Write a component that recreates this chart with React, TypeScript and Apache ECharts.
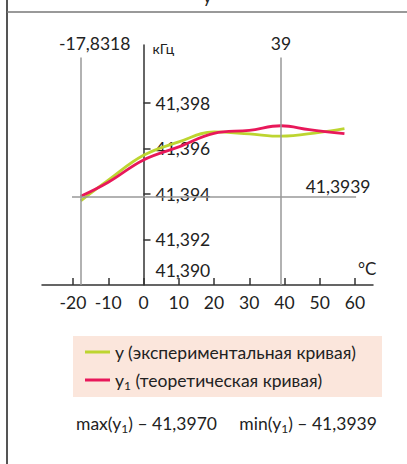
import React, { useEffect, useRef } from "react";
import * as echarts from "echarts";

const xTicks = [-20, -10, 0, 10, 20, 30, 40, 50, 60];
const yTicks = [41.39, 41.392, 41.394, 41.396, 41.398];

const expX = [-17.83, -10, 0, 10, 20, 30, 39, 50, 57];
const expY = [41.3937, 41.39461, 41.3957, 41.39629, 41.39673, 41.39664, 41.39654, 41.39671, 41.39687];

const theoX = [-17.83, -10, 0, 10, 20, 30, 39, 47, 57];
const theoY = [41.3939, 41.39452, 41.3955, 41.39607, 41.39667, 41.3968, 41.397, 41.39683, 41.39665];

const minX = -17.8318;
const maxX = 39;
const minY1 = 41.3939;
const maxY1 = 41.397;

const seriesNames = ["y (экспериментальная кривая)", "y1 (теоретическая кривая)"];

const FONT = "Lato";
const fmt = (v: number, d: number) => v.toFixed(d).replace(".", ",");

const X_MIN = -28.8;
const X_MAX = 65.1;
const GRID_W = 331;

export default function App() {
  const ref = useRef<HTMLDivElement>(null);
  useEffect(() => {
    const chart = echarts.init(ref.current!, undefined, { renderer: "svg" });
    const pairs = (xs: number[], ys: number[]) => xs.map((x, i) => [x, ys[i]]);
    const yOffset = -((0 - X_MIN) / (X_MAX - X_MIN)) * GRID_W;
    chart.setOption({
      animation: false,
      textStyle: { fontFamily: FONT },
      grid: { left: 42, top: 45, width: GRID_W, height: 240, outerBoundsMode: "none", containLabel: false },
      xAxis: {
        type: "value",
        min: X_MIN,
        max: X_MAX,
        name: "°C",
        nameLocation: "end",
        nameGap: -15,
        nameTextStyle: { fontSize: 17, color: "#222", verticalAlign: "bottom", padding: [0, 0, 8, 0], fontFamily: FONT },
        axisLine: { onZero: false, lineStyle: { color: "#333", width: 1.5 } },
        axisTick: { show: true, inside: true, length: 7, customValues: xTicks, lineStyle: { color: "#333", width: 1.5 } },
        axisLabel: { customValues: xTicks, fontSize: 17.5, color: "#222", margin: 8, fontFamily: FONT },
        splitLine: { show: false },
      },
      yAxis: {
        type: "value",
        position: "left",
        offset: yOffset,
        min: 41.39,
        max: 41.40055,
        name: "кГц",
        nameLocation: "end",
        nameGap: -3,
        nameTextStyle: { fontSize: 14, color: "#222", align: "left", verticalAlign: "middle", padding: [0, 0, 0, 9], fontFamily: FONT },
        axisLine: { onZero: false, lineStyle: { color: "#333", width: 1.5 } },
        axisTick: { show: true, inside: true, length: 7, customValues: yTicks.slice(1), lineStyle: { color: "#333", width: 1.5 } },
        axisLabel: {
          inside: true,
          customValues: yTicks,
          margin: 12,
          fontSize: 17.5,
          color: "#222",
          fontFamily: FONT,
          formatter: (v: number) => (Math.abs(v - yTicks[0]) < 1e-7 ? "{b|" + fmt(v, 3) + "}" : fmt(v, 3)),
          rich: { b: { fontSize: 17.5, color: "#222", fontFamily: FONT, padding: [0, 0, 30, 0] } },
        },
        splitLine: { show: false },
      },
      legend: {
        orient: "vertical",
        left: 85,
        top: 343,
        icon: "rect",
        itemWidth: 25,
        itemHeight: 3,
        itemGap: 10,
        padding: 0,
        data: seriesNames,
        formatter: (n: string) => (n === seriesNames[1] ? "y{s|1} (теоретическая кривая)" : n),
        textStyle: {
          fontSize: 17.5,
          color: "#222",
          fontFamily: FONT,
          rich: { s: { fontSize: 12, color: "#222", fontFamily: FONT, padding: [10, 0, 0, 0] } },
        },
      },
      graphic: [
        { type: "rect", z: -10, shape: { x: 73, y: 336, width: 309, height: 61 }, style: { fill: "#fbe6dc" } },
        { type: "line", shape: { x1: 7, y1: 0, x2: 7, y2: 464 }, style: { stroke: "#555", lineWidth: 2 } },
        { type: "line", shape: { x1: 7, y1: 12, x2: 407, y2: 12 }, style: { stroke: "#777", lineWidth: 1.5 } },
        { type: "text", x: 203, y: 5, style: { text: "у", fontSize: 17, fontFamily: FONT, fill: "#222", verticalAlign: "bottom" } },
        {
          type: "text",
          x: 76,
          y: 423,
          style: {
            text: "max(y{s|1}) – " + fmt(maxY1, 4) + "     min(y{s|1}) – " + fmt(minY1, 4),
            fontSize: 17.5,
            fontFamily: FONT,
            fill: "#222",
            verticalAlign: "middle",
            rich: { s: { fontSize: 12, fill: "#222", fontFamily: FONT, padding: [10, 0, 0, 0] } },
          },
        },
      ],
      series: [
        {
          name: seriesNames[0],
          type: "line",
          smooth: 0.4,
          showSymbol: false,
          data: pairs(expX, expY),
          lineStyle: { color: "#bdd530", width: 2.8 },
          itemStyle: { color: "#bdd530" },
          markLine: {
            silent: true,
            symbol: ["none", "none"],
            label: { show: false },
            lineStyle: { color: "#999", width: 1.5, type: "solid" },
            data: [
              [{ coord: [minX, 41.39] }, { coord: [minX, 41.4] }],
              [{ coord: [maxX, 41.39] }, { coord: [maxX, 41.4] }],
              [{ coord: [-20.3, minY1] }, { coord: [60.3, minY1] }],
            ],
          },
          markPoint: {
            silent: true,
            symbol: "circle",
            symbolSize: 0,
            label: { show: true, position: "inside", fontSize: 17.5, color: "#222", fontFamily: FONT },
            data: [
              { coord: [minX, 41.4], value: fmt(minX, 4), label: { offset: [14, -14], formatter: fmt(minX, 4) } },
              { coord: [maxX, 41.4], value: String(maxX), label: { offset: [0, -14], formatter: String(maxX) } },
              { coord: [60.3, minY1], value: fmt(minY1, 4), label: { offset: [-18, -10], formatter: fmt(minY1, 4) } },
            ],
          },
        },
        {
          name: seriesNames[1],
          type: "line",
          smooth: 0.4,
          showSymbol: false,
          data: pairs(theoX, theoY),
          lineStyle: { color: "#e8185a", width: 2.8 },
          itemStyle: { color: "#e8185a" },
        },
      ],
    });
    return () => chart.dispose();
  }, []);
  return <div ref={ref} style={{ position: "fixed", left: 0, top: 0, width: 407, height: 464, background: "#fff" }} />;
}
